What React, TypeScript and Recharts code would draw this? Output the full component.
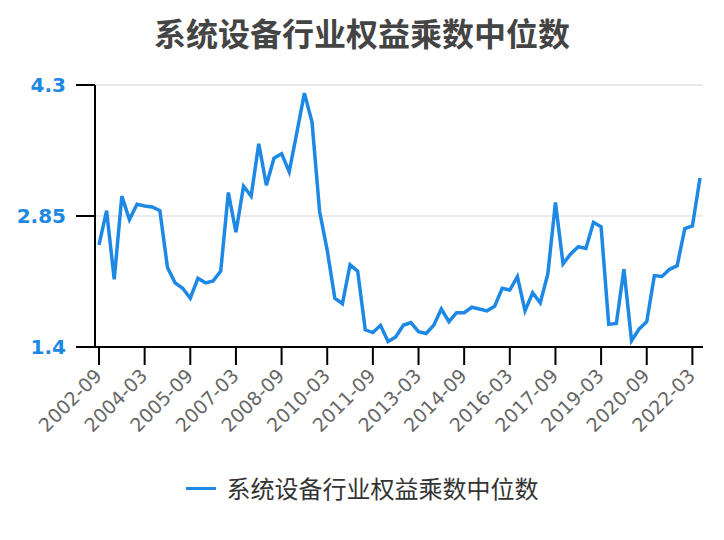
import { LineChart, Line, XAxis, YAxis, CartesianGrid, Legend } from "recharts";

const TITLE = "系统设备行业权益乘数中位数";

const quarters = [
  "2002-09", "2002-12",
  "2003-03", "2003-06", "2003-09", "2003-12",
  "2004-03", "2004-06", "2004-09", "2004-12",
  "2005-03", "2005-06", "2005-09", "2005-12",
  "2006-03", "2006-06", "2006-09", "2006-12",
  "2007-03", "2007-06", "2007-09", "2007-12",
  "2008-03", "2008-06", "2008-09", "2008-12",
  "2009-03", "2009-06", "2009-09", "2009-12",
  "2010-03", "2010-06", "2010-09", "2010-12",
  "2011-03", "2011-06", "2011-09", "2011-12",
  "2012-03", "2012-06", "2012-09", "2012-12",
  "2013-03", "2013-06", "2013-09", "2013-12",
  "2014-03", "2014-06", "2014-09", "2014-12",
  "2015-03", "2015-06", "2015-09", "2015-12",
  "2016-03", "2016-06", "2016-09", "2016-12",
  "2017-03", "2017-06", "2017-09", "2017-12",
  "2018-03", "2018-06", "2018-09", "2018-12",
  "2019-03", "2019-06", "2019-09", "2019-12",
  "2020-03", "2020-06", "2020-09", "2020-12",
  "2021-03", "2021-06", "2021-09", "2021-12",
  "2022-03", "2022-06",
];

const medianMultiplier = [
  2.53, 2.91, 2.15, 3.07, 2.81, 2.98, 2.96, 2.95, 2.91, 2.28,
  2.11, 2.05, 1.94, 2.16, 2.11, 2.13, 2.24, 3.11, 2.67, 3.18,
  3.07, 3.65, 3.19, 3.49, 3.54, 3.34, 3.77, 4.21, 3.89, 2.9,
  2.47, 1.94, 1.88, 2.31, 2.24, 1.59, 1.56, 1.64, 1.46, 1.51,
  1.64, 1.67, 1.57, 1.55, 1.64, 1.82, 1.68, 1.78, 1.78, 1.84,
  1.82, 1.8, 1.85, 2.05, 2.03, 2.18, 1.8, 2.0, 1.89, 2.21,
  3.0, 2.32, 2.43, 2.51, 2.49, 2.78, 2.73, 1.65, 1.66, 2.26,
  1.47, 1.6, 1.68, 2.19, 2.18, 2.26, 2.3, 2.71, 2.74, 3.27,
];

const yTicks = [1.4, 2.85, 4.3];

const data = quarters.map((q, i) => ({ date: q, value: medianMultiplier[i] }));

const BLUE = "#1e88e5";
const NUM_FONT = "'DejaVu Sans', sans-serif";
const CJK_FONT = "'Noto Sans CJK SC', 'Noto Sans', sans-serif";

const XTick = (props: any) => {
  const { x, y, payload } = props;
  return (
    <g transform={`translate(${x + 4},${y + 10})`}>
      <text
        x={0}
        y={0}
        textAnchor="end"
        transform="rotate(-45)"
        fill="#666"
        fontSize={19}
        fontFamily={NUM_FONT}
      >
        {payload.value}
      </text>
    </g>
  );
};

const LegendContent = () => (
  <div
    style={{
      display: "flex",
      alignItems: "center",
      justifyContent: "center",
      height: 36,
      fontFamily: CJK_FONT,
    }}
  >
    <span style={{ width: 30, height: 3, background: BLUE, marginRight: 11 }} />
    <span style={{ fontSize: 24, color: "#333", lineHeight: "36px" }}>{TITLE}</span>
  </div>
);

export default function App() {
  return (
    <div style={{ position: "absolute", left: 0, top: 0, width: 724, height: 540, background: "#fff" }}>
      <div
        style={{
          position: "absolute",
          top: 11,
          left: 0,
          width: 724,
          textAlign: "center",
          fontFamily: CJK_FONT,
          fontWeight: 700,
          fontSize: 32,
          lineHeight: "42px",
          color: "#444",
        }}
      >
        {TITLE}
      </div>
      <LineChart
        width={724}
        height={540}
        data={data}
        margin={{ top: 85, right: 21, left: 15, bottom: 93 }}
      >
        <CartesianGrid vertical={false} stroke="#e3e3e3" strokeWidth={1.5} />
        <XAxis
          dataKey="date"
          interval={5}
          height={100}
          padding={{ left: 4, right: 3 }}
          tickSize={18}
          axisLine={{ stroke: "#000", strokeWidth: 2 }}
          tickLine={{ stroke: "#000", strokeWidth: 2 }}
          tick={<XTick />}
        />
        <YAxis
          domain={[1.4, 4.3]}
          ticks={yTicks}
          width={80}
          tickSize={19}
          tickMargin={10}
          axisLine={{ stroke: "#000", strokeWidth: 2 }}
          tickLine={{ stroke: "#000", strokeWidth: 2 }}
          tick={{ fill: BLUE, fontSize: 20, fontWeight: 700, fontFamily: NUM_FONT }}
        />
        <Legend
          verticalAlign="middle"
          align="center"
          content={<LegendContent />}
          wrapperStyle={{ top: 470, left: 0, width: 724 }}
        />
        <Line
          type="linear"
          dataKey="value"
          name={TITLE}
          stroke={BLUE}
          strokeWidth={3.5}
          dot={false}
          activeDot={false}
          isAnimationActive={false}
        />
      </LineChart>
    </div>
  );
}
